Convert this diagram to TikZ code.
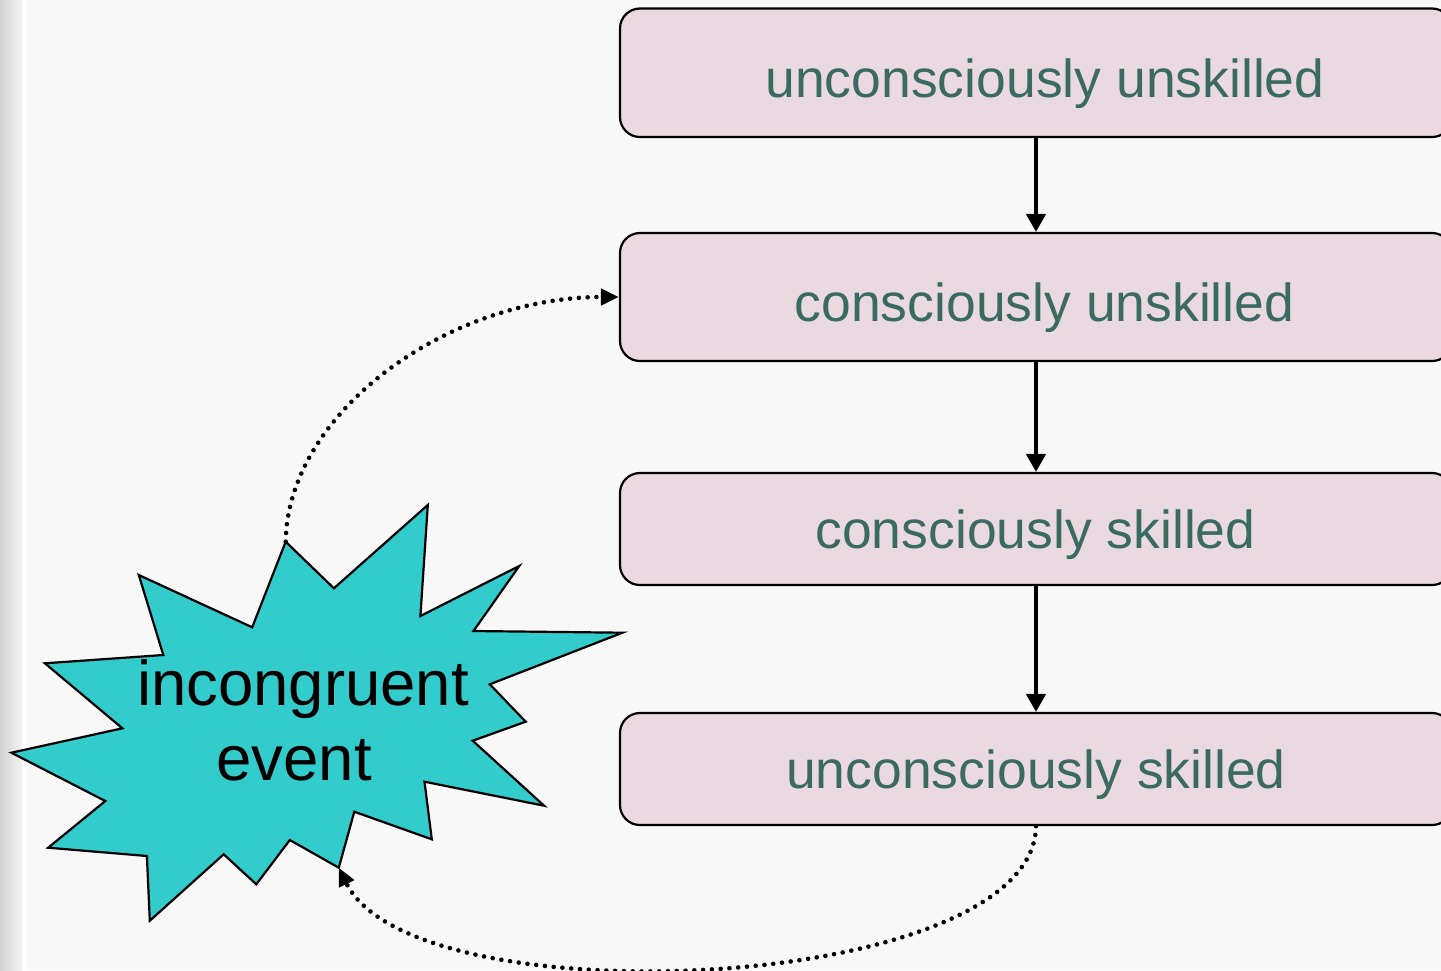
\documentclass[tikz,border=0pt]{standalone}
\usepackage{fontspec}
\setmainfont{Liberation Sans}
\usetikzlibrary{arrows.meta}
\definecolor{pagebg}{HTML}{F8F8F8}
\definecolor{edgedark}{HTML}{D4D4D4}
\definecolor{edgelight}{HTML}{F3F3F3}
\definecolor{stagefill}{HTML}{EAD9E0}
\definecolor{stagetext}{HTML}{3A6B63}
\definecolor{burst}{HTML}{33CCCC}

\begin{document}
\begin{tikzpicture}[x=1pt,y=-1pt,
  stagebox/.style={draw=black, line width=2.2pt, fill=stagefill,
    rounded corners=20pt, minimum width=832pt, inner sep=0pt},
  stagelabel/.style={text=stagetext, font=\fontsize{53.5}{64}\selectfont,
    anchor=base, inner sep=0pt},
  eventlabel/.style={text=black, font=\fontsize{63.5}{76}\selectfont,
    anchor=base, inner sep=0pt},
  stepflow/.style={line width=4.6pt, -{Triangle[length=18pt,width=19pt]}},
  dotflow/.style={line width=4.6pt, line cap=round,
    dash pattern=on 0pt off 8.8pt, -{Triangle[length=18pt,width=16pt]}},
]
\useasboundingbox (0,0) rectangle (1441,970);
\clip (0,0) rectangle (1441,970);

% page background with a shaded left margin
\fill[pagebg] (0,0) rectangle (1441,970);
\shade[left color=edgedark, right color=edgelight] (0,0) rectangle (22,970);
\fill[white] (22,0) rectangle (27,970);

% the four stages
\node[stagebox, minimum height=128.5pt] (b1) at (1036,72.75) {};
\node[stagebox, minimum height=128pt]   (b2) at (1036,297) {};
\node[stagebox, minimum height=112pt]   (b3) at (1036,529) {};
\node[stagebox, minimum height=112pt]   (b4) at (1036,769) {};

\node[stagelabel] (t1) at (1045,97)  {unconsciously unskilled};
\node[stagelabel] (t2) at (1044.5,321) {consciously unskilled};
\node[stagelabel] (t3) at (1035.5,548) {consciously skilled};
\node[stagelabel] (t4) at (1036,788) {unconsciously skilled};

\draw[stepflow] (b1.south) -- (b2.north);
\draw[stepflow] (b2.south) -- (b3.north);
\draw[stepflow] (b3.south) -- (b4.north);

% the burst
\draw[fill=burst, line width=2.2pt, line join=miter]
  (285.7,541.7) -- (333.9,588.3) -- (427.8,505) -- (420.4,616) --
  (519.2,566) -- (473.5,631) -- (622.4,632.7) -- (489.8,684.3) --
  (525.7,721.7) -- (472.7,740.7) -- (544.1,805.7) -- (424.5,781.7) --
  (431.8,839.3) -- (354.3,811.7) -- (338.8,867.7) -- (289.8,840) --
  (256.3,884.3) -- (223.7,854.3) -- (149.8,920.7) -- (146.9,856) --
  (48.2,847.7) -- (105.3,801) -- (11.4,752.7) -- (122.4,728.3) --
  (44.9,663.3) -- (163.3,655) -- (138.8,575) -- (252.2,627.3) -- cycle;
\coordinate (burstTop) at (285.7,541.7);
\coordinate (burstLow) at (338.8,867.7);

\node[eventlabel] (e1) at (303,705) {incongruent};
\node[eventlabel] (e2) at (294,780) {event};

% feedback loops
\draw[dotflow] (burstTop) .. controls +(2,-130) and +(-170,0) .. (b2.west);
\draw[dotflow] (b4.south) .. controls +(-2,167) and +(75,154) .. (burstLow);
\end{tikzpicture}
\end{document}
